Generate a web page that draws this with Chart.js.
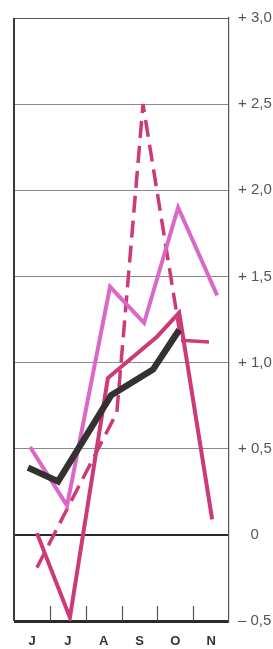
<!DOCTYPE html>
<html lang="fr">
<head>
<meta charset="UTF-8">
<title>Chart</title>
<script src="https://cdn.jsdelivr.net/npm/chart.js"></script>
<style>
  html, body { margin: 0; padding: 0; background: #ffffff; }
  #wrap { width: 273px; height: 649px; }
</style>
</head>
<body>
<div id="wrap"><canvas id="chart"></canvas></div>
<script>
// month labels, one per column
const months = ['J', 'J', 'A', 'S', 'O', 'N'];

// x positions are in "months" counted from the left edge of the frame
const blackX = [0.39, 1.23, 2.71, 3.88, 4.61];
const blackY = [0.39, 0.31, 0.81, 0.96, 1.19];

const orchidX = [0.45, 1.48, 2.68, 3.63, 4.58, 5.67];
const orchidY = [0.51, 0.17, 1.44, 1.23, 1.90, 1.39];

const redX = [0.64, 1.56, 2.62, 3.99, 4.61, 5.53];
const redY = [0.01, -0.48, 0.91, 1.15, 1.29, 0.09];

const dashX = [0.64, 2.87, 3.60, 4.66, 5.44];
const dashY = [-0.19, 0.71, 2.50, 1.13, 1.12];

const yMin = -0.5, yMax = 3.0, yStep = 0.5;

function pts(xs, ys) {
  return xs.map((x, i) => ({ x: x, y: ys[i] }));
}

function yLabel(v) {
  if (Math.abs(v) < 1e-9) return '   0';
  const s = Math.abs(v).toFixed(1).replace('.', ',');
  return (v > 0 ? '+ ' : '\u2013 ') + s;
}

// left frame edge and the little inward ticks on the bottom line
const framePlugin = {
  id: 'frame',
  beforeDatasetsDraw(chart) {
    const ctx = chart.ctx;
    const xs = chart.scales.x;
    const area = chart.chartArea;
    ctx.save();
    ctx.strokeStyle = '#3a3a3a';
    ctx.lineWidth = 2;
    ctx.beginPath();
    ctx.moveTo(area.left, area.top);
    ctx.lineTo(area.left, area.bottom);
    ctx.stroke();
    ctx.lineWidth = 1.2;
    ctx.strokeStyle = '#555';
    for (let i = 1; i < months.length; i++) {
      const px = Math.round(xs.getPixelForValue(i)) + 0.5;
      ctx.beginPath();
      ctx.moveTo(px, area.bottom);
      ctx.lineTo(px, area.bottom - 15);
      ctx.stroke();
    }
    ctx.restore();
  }
};

const ctx = document.getElementById('chart').getContext('2d');
new Chart(ctx, {
  type: 'line',
  data: {
    datasets: [
      {
        data: pts(blackX, blackY),
        borderColor: '#353131',
        borderWidth: 6.5,
        borderJoinStyle: 'miter',
        pointRadius: 0
      },
      {
        data: pts(redX, redY),
        borderColor: '#cc3a7a',
        borderWidth: 4,
        borderJoinStyle: 'miter',
        pointRadius: 0
      },
      {
        data: pts(orchidX, orchidY),
        borderColor: '#da68c8',
        borderWidth: 4,
        borderJoinStyle: 'miter',
        pointRadius: 0
      },
      {
        data: pts(dashX, dashY),
        borderColor: '#cc3a7a',
        borderWidth: 3.5,
        borderDash: [17, 8],
        borderJoinStyle: 'bevel',
        pointRadius: 0,
        // the short flat end piece is printed solid
        segment: {
          borderDash: c => (c.p1DataIndex === dashX.length - 1 ? [] : undefined)
        }
      }
    ]
  },
  options: {
    responsive: true,
    maintainAspectRatio: false,
    animation: false,
    layout: { padding: { left: 14, top: 16, right: 0, bottom: 0 } },
    plugins: {
      legend: { display: false },
      tooltip: { enabled: false }
    },
    scales: {
      x: {
        type: 'linear',
        min: 0,
        max: months.length,
        grid: { display: false },
        border: { display: false },
        afterFit: s => { s.height = 28; },
        ticks: {
          stepSize: 1,
          autoSkip: false,
          maxRotation: 0,
          padding: 5,
          labelOffset: 18,
          color: '#333',
          font: { family: "'Liberation Sans Narrow', 'Liberation Sans', Arial", size: 13, weight: 'bold' },
          callback: v => months[v] || ''
        }
      },
      y: {
        position: 'right',
        min: yMin,
        max: yMax,
        afterFit: s => { s.width = 44; },
        border: { display: true, color: '#555', width: 1.2 },
        grid: {
          drawTicks: false,
          color: c => {
            const v = c.tick.value;
            if (Math.abs(v) < 1e-9 || Math.abs(v - yMin) < 1e-9) return '#2a2a2a';
            if (Math.abs(v - yMax) < 1e-9) return '#555';
            return '#8a8a8a';
          },
          lineWidth: c => {
            const v = c.tick.value;
            if (Math.abs(v - yMin) < 1e-9) return 3;
            if (Math.abs(v) < 1e-9) return 2;
            return 1;
          }
        },
        ticks: {
          stepSize: yStep,
          padding: 9,
          crossAlign: 'near',
          color: '#555',
          font: { family: "'Liberation Sans', Arial", size: 15 },
          callback: v => yLabel(v)
        }
      }
    }
  },
  plugins: [framePlugin]
});
</script>
</body>
</html>
